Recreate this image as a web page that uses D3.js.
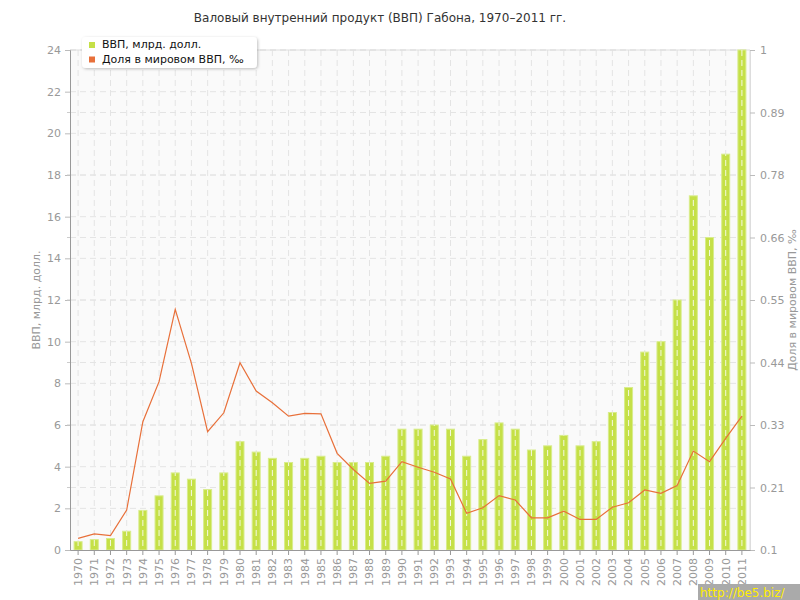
<!DOCTYPE html>
<html>
<head>
<meta charset="utf-8">
<script src="https://cdn.jsdelivr.net/npm/d3@7"></script>
<style>
  body { margin: 0; background: #fff; }
  svg { font-family: "DejaVu Sans", Verdana, sans-serif; }
</style>
</head>
<body>
<svg id="chart" width="800" height="600"></svg>
<script>
// years on the x axis
const years = d3.range(1970, 2012).map(String);

// GDP, bn USD (bars, left axis)
const gdp = [0.4, 0.5, 0.55, 0.9, 1.9, 2.6, 3.7, 3.4, 2.9, 3.7,
             5.2, 4.7, 4.4, 4.2, 4.4, 4.5, 4.2, 4.2, 4.2, 4.5,
             5.8, 5.8, 6.0, 5.8, 4.5, 5.3, 6.1, 5.8, 4.8, 5.0,
             5.5, 5.0, 5.2, 6.6, 7.8, 9.5, 10.0, 12.0, 17.0, 15.0,
             19.0, 24.0];

// share of world GDP, permille (line, right axis)
const share = [0.121, 0.129, 0.126, 0.172, 0.331, 0.403, 0.533, 0.436, 0.313, 0.347,
               0.437, 0.386, 0.365, 0.341, 0.346, 0.345, 0.274, 0.245, 0.220, 0.224,
               0.259, 0.249, 0.240, 0.228, 0.166, 0.176, 0.198, 0.190, 0.158, 0.158,
               0.170, 0.155, 0.155, 0.177, 0.185, 0.208, 0.202, 0.216, 0.278, 0.259,
               0.301, 0.341];

const leftTicks = d3.range(0, 25, 2);
const rightTicks = d3.range(0, 9).map(i => 0.1 + i * 0.1125);

const title = "Валовый внутренний продукт (ВВП) Габона, 1970–2011 гг.";
const legendLabels = ["ВВП, млрд. долл.", "Доля в мировом ВВП, ‰"];

const barColor = "#c5e047";
const lineColor = "#e8703a";
const textGray = "#999";

let margin = {top: 50, right: 50, bottom: 50, left: 70};
let width = 800, height = 600;

let svg = d3.select("#chart");

let x = d3.scaleBand().domain(years).range([margin.left, width - margin.right]);
let yL = d3.scaleLinear().domain([0, 24]).range([height - margin.bottom, margin.top]);
let yR = d3.scaleLinear().domain([0.1, 1]).range([height - margin.bottom, margin.top]);
let cx = d => x(d) + x.bandwidth() / 2;

// plot background
svg.append("rect")
    .attr("x", margin.left).attr("y", margin.top)
    .attr("width", width - margin.left - margin.right)
    .attr("height", height - margin.top - margin.bottom)
    .attr("fill", "#fafafa");

// horizontal grid for both axes
let grid = svg.append("g").attr("stroke", "#e4e4e4").attr("stroke-dasharray", "6,4");
grid.selectAll(".hl").data(leftTicks.slice(1)).enter().append("line")
    .attr("x1", margin.left).attr("x2", width - margin.right)
    .attr("y1", d => yL(d)).attr("y2", d => yL(d));
grid.selectAll(".hr").data(rightTicks.slice(1)).enter().append("line")
    .attr("x1", margin.left).attr("x2", width - margin.right)
    .attr("y1", d => yR(d)).attr("y2", d => yR(d));
grid.selectAll(".v").data(years).enter().append("line")
    .attr("x1", cx).attr("x2", cx)
    .attr("y1", margin.top).attr("y2", height - margin.bottom);

// frame on top and right
svg.append("path")
    .attr("d", `M${margin.left},${margin.top}H${width - margin.right}V${height - margin.bottom}`)
    .attr("fill", "none").attr("stroke", "#ddd");

// bars
let barW = 8;
svg.append("g").selectAll("rect").data(gdp).enter().append("rect")
    .attr("x", (d, i) => cx(years[i]) - barW / 2)
    .attr("y", d => yL(d))
    .attr("width", barW)
    .attr("height", d => yL(0) - yL(d))
    .attr("fill", barColor)
    .attr("stroke", "#d8ec8c")
    .attr("stroke-width", 1);

// white dashes through the bars (grid showing over them)
svg.append("g").selectAll("line").data(gdp).enter().append("line")
    .attr("x1", (d, i) => cx(years[i])).attr("x2", (d, i) => cx(years[i]))
    .attr("y1", d => yL(d)).attr("y2", yL(0))
    .attr("stroke", "#f4f9e0")
    .attr("stroke-dasharray", "6,4")
    .attr("stroke-dashoffset", d => yL(d) - margin.top);

// share line
let line = d3.line().x((d, i) => cx(years[i])).y(d => yR(d));
svg.append("path").datum(share)
    .attr("d", line)
    .attr("fill", "none")
    .attr("stroke", lineColor)
    .attr("stroke-width", 1.2);

// left axis
let axL = svg.append("g")
    .attr("transform", `translate(${margin.left},0)`)
    .call(d3.axisLeft(yL).tickValues(leftTicks).tickSize(5).tickPadding(4));
axL.selectAll(".tick line").attr("stroke", "#bbb");
axL.append("g").selectAll("line").data(rightTicks.slice(1, -1)).enter().append("line")
    .attr("x1", -3).attr("x2", 0).attr("y1", d => yR(d)).attr("y2", d => yR(d))
    .attr("stroke", "#ccc");

// right axis
let axR = svg.append("g")
    .attr("transform", `translate(${width - margin.right},0)`)
    .call(d3.axisRight(yR).tickValues(rightTicks).tickSize(5).tickPadding(5)
        .tickFormat(d => +d.toFixed(2)));
axR.select(".domain").attr("stroke", "#ddd");
axR.selectAll(".tick line").attr("stroke", "#bbb");

// bottom axis
let axB = svg.append("g")
    .attr("transform", `translate(0,${height - margin.bottom})`)
    .call(d3.axisBottom(x).tickSize(5).tickSizeOuter(0));
axB.selectAll(".tick text")
    .attr("transform", "rotate(-90)")
    .attr("text-anchor", "end")
    .attr("x", -8).attr("y", 0).attr("dy", "0.35em");

[axL, axB].forEach(a => a.select(".domain").attr("stroke", "#999"));
axB.selectAll(".tick line").attr("stroke", "#999");
[axL, axR, axB].forEach(a => a.selectAll(".tick text")
    .attr("fill", textGray).style("font-size", "11px")
    .style("font-family", "DejaVu Sans, Verdana, sans-serif"));

// axis titles
svg.append("text")
    .attr("transform", `translate(40,${(margin.top + height - margin.bottom) / 2}) rotate(-90)`)
    .attr("text-anchor", "middle")
    .attr("fill", textGray).style("font-size", "11px")
    .text("ВВП, млрд. долл.");
svg.append("text")
    .attr("transform", `translate(796,${(margin.top + height - margin.bottom) / 2}) rotate(-90)`)
    .attr("text-anchor", "middle")
    .attr("fill", textGray).style("font-size", "11px")
    .text("Доля в мировом ВВП, ‰");

// title
svg.append("text")
    .attr("x", 380).attr("y", 22)
    .attr("text-anchor", "middle")
    .attr("fill", "#333").style("font-size", "12px")
    .text(title);

// legend
let defs = svg.append("defs");
let f = defs.append("filter").attr("id", "shadow").attr("x", "-10%").attr("y", "-20%")
    .attr("width", "130%").attr("height", "160%");
f.append("feDropShadow").attr("dx", 1).attr("dy", 1).attr("stdDeviation", 1.5)
    .attr("flood-color", "#000").attr("flood-opacity", 0.25);

let legend = svg.append("g").attr("transform", "translate(82,37)");
legend.append("rect")
    .attr("width", 175).attr("height", 31).attr("rx", 4)
    .attr("fill", "#fff").attr("filter", "url(#shadow)");
let items = legend.selectAll(".item").data(legendLabels).enter().append("g")
    .attr("transform", (d, i) => `translate(7,${5 + i * 14.5})`);
items.append("rect").attr("width", 6).attr("height", 6)
    .attr("fill", (d, i) => i === 0 ? barColor : lineColor);
items.append("text").attr("x", 13).attr("y", 6)
    .attr("fill", "#111").style("font-size", "11px")
    .text(d => d);

// watermark
svg.append("rect").attr("x", 698).attr("y", 584).attr("width", 102).attr("height", 16)
    .attr("fill", "#aaa");
svg.append("text").attr("x", 700).attr("y", 597)
    .attr("fill", "#ffee00").style("font-size", "12px")
    .text("http://be5.biz/");
</script>
</body>
</html>
